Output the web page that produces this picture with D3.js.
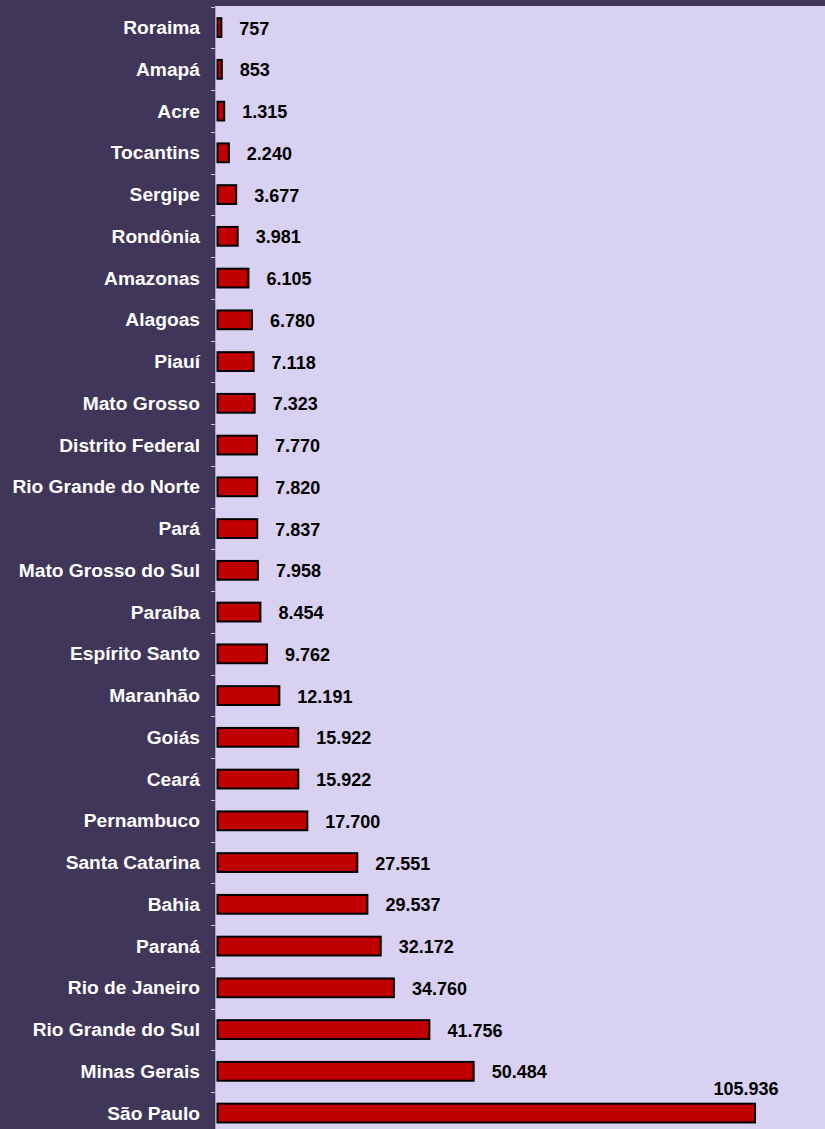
<!DOCTYPE html>
<html>
<head>
<meta charset="utf-8">
<script src="https://cdn.jsdelivr.net/npm/d3@7"></script>
<style>
  html, body { margin: 0; padding: 0; background: #40365A; }
  svg { display: block; }
</style>
</head>
<body>
<svg id="chart" width="825" height="1129"></svg>
<script>
// Estados brasileiros, do menor para o maior valor
const estados = [
  "Roraima", "Amapá", "Acre", "Tocantins", "Sergipe", "Rondônia", "Amazonas",
  "Alagoas", "Piauí", "Mato Grosso", "Distrito Federal", "Rio Grande do Norte",
  "Pará", "Mato Grosso do Sul", "Paraíba", "Espírito Santo", "Maranhão", "Goiás",
  "Ceará", "Pernambuco", "Santa Catarina", "Bahia", "Paraná", "Rio de Janeiro",
  "Rio Grande do Sul", "Minas Gerais", "São Paulo"
];
const valores = [
  757, 853, 1315, 2240, 3677, 3981, 6105,
  6780, 7118, 7323, 7770, 7820,
  7837, 7958, 8454, 9762, 12191, 15922,
  15922, 17700, 27551, 29537, 32172, 34760,
  41756, 50484, 105936
];
const eixoMax = 120000;

const data = estados.map((e, i) => ({ estado: e, valor: valores[i] }));
const fmt = d3.formatLocale({ decimal: ",", thousands: ".", grouping: [3], currency: ["R$", ""] }).format(",d");

const svg = d3.select("#chart");
const W = 825, H = 1129;
const plotLeft = 215, plotTop = 6.7;
const step = 41.75;

svg.append("rect").attr("x", 0).attr("y", 0).attr("width", W).attr("height", H).attr("fill", "#40365A");
svg.append("rect").attr("x", plotLeft).attr("y", plotTop - 0.7).attr("width", W - plotLeft).attr("height", H).attr("fill", "#D9D1F1");

const x = d3.scaleLinear().domain([0, eixoMax]).range([217.5, 217.5 + 608.9]);
const y = d3.scaleBand().domain(estados).range([plotTop, plotTop + step * estados.length]).paddingInner(0.55).paddingOuter(0.275);

// Eixo das categorias com marcas nos limites de cada faixa
const bounds = d3.range(estados.length + 1).map(i => plotTop + i * step);
svg.append("line").attr("x1", plotLeft + 0.5).attr("x2", plotLeft + 0.5)
  .attr("y1", plotTop).attr("y2", H).attr("stroke", "#A99FC4").attr("stroke-width", 1);
svg.selectAll("line.tick").data(bounds).join("line").attr("class", "tick")
  .attr("x1", 211).attr("x2", plotLeft).attr("y1", d => Math.round(d) + 0.5).attr("y2", d => Math.round(d) + 0.5)
  .attr("stroke", "#C9C1E2").attr("stroke-width", 1);

// Rótulos das categorias
svg.selectAll("text.cat").data(data).join("text").attr("class", "cat")
  .attr("x", 200).attr("y", d => y(d.estado) + y.bandwidth() / 2)
  .attr("text-anchor", "end").attr("dominant-baseline", "central")
  .attr("font-family", "Liberation Sans, Arial, sans-serif").attr("font-weight", "bold")
  .attr("font-size", 19.2).attr("fill", "#FFFFFF")
  .text(d => d.estado);

// Barras
svg.selectAll("rect.bar").data(data).join("rect").attr("class", "bar")
  .attr("x", x(0)).attr("y", d => y(d.estado))
  .attr("width", d => x(d.valor) - x(0)).attr("height", y.bandwidth())
  .attr("fill", "#C00000").attr("stroke", "#000000").attr("stroke-width", 2);

// Rótulos de valor
const last = data.length - 1;
svg.selectAll("text.val").data(data).join("text").attr("class", "val")
  .attr("x", (d, i) => i === last ? x(d.valor) - 9 : x(d.valor) + 18)
  .attr("y", (d, i) => y(d.estado) + y.bandwidth() / 2 + 1 + (i === last ? -25 : 0))
  .attr("text-anchor", (d, i) => i === last ? "middle" : "start")
  .attr("dominant-baseline", "central")
  .attr("font-family", "Liberation Sans, Arial, sans-serif").attr("font-weight", "bold")
  .attr("font-size", 18).attr("fill", "#000000")
  .text(d => fmt(d.valor));

// Faixa superior
svg.append("rect").attr("x", 0).attr("y", 0).attr("width", W).attr("height", 6).attr("fill", "#40365A");
</script>
</body>
</html>
